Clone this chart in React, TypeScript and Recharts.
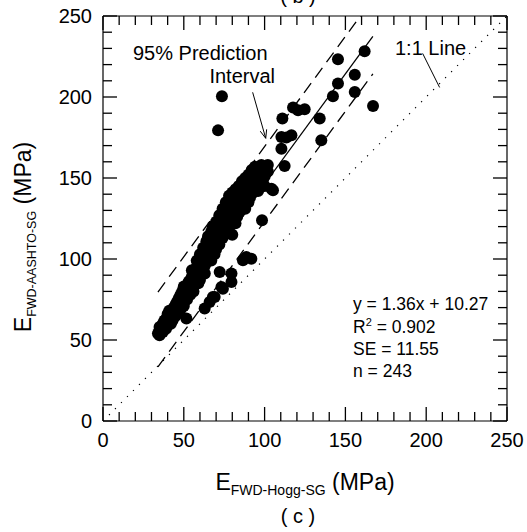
import React from 'react';
import { ComposedChart, Scatter, Line, XAxis, YAxis, ReferenceLine } from 'recharts';

// axis ticks (every 10, labels every 50)
const axisTicks = [0, 10, 20, 30, 40, 50, 60, 70, 80, 90, 100, 110, 120, 130, 140, 150, 160, 170, 180, 190, 200, 210, 220, 230, 240, 250];

// regression y = 1.36x + 10.27, SE = 11.55
const fitSlope = 1.36;
const fitIntercept = 10.27;
const bandOffset = 23.1;
const fitRange = [34, 167];
const oneToOne = [0, 250];

// E_FWD-Hogg-SG vs E_FWD-AASHTO-SG, main cluster [x, y]
const mainCluster = [
  [34, 54], [35, 53], [35, 56], [35, 58], [36, 55], [36, 58], [37, 57], [37, 60], [37, 55],
  [38, 58], [38, 62], [39, 60], [39, 63], [39, 57], [40, 59], [40, 62], [40, 66],
  [41, 61], [41, 64], [41, 68], [42, 63], [42, 66], [42, 60], [43, 65], [43, 69], [43, 62],
  [44, 66], [44, 70], [44, 64], [45, 68], [45, 72], [45, 65], [46, 69], [46, 74], [46, 67],
  [47, 71], [47, 76], [48, 72], [48, 78], [48, 69], [49, 74], [49, 80],
  [50, 75], [50, 79], [50, 83], [50, 71], [51, 77], [51, 82], [52, 78], [52, 84], [52, 75],
  [53, 80], [53, 86], [54, 81], [54, 87], [54, 78], [55, 83], [55, 89], [55, 85], [55, 93],
  [56, 84], [56, 91], [56, 80], [57, 86], [57, 93], [58, 87], [58, 95], [58, 91], [58, 99],
  [59, 89], [59, 97], [59, 85], [60, 90], [60, 94], [60, 99], [60, 87], [60, 103],
  [61, 92], [61, 101], [62, 94], [62, 99], [62, 103], [62, 107], [63, 96], [63, 105], [63, 91],
  [64, 98], [64, 102], [64, 107], [64, 111], [65, 100], [65, 109], [65, 104], [65, 114],
  [66, 102], [66, 111], [66, 106], [67, 104], [67, 113], [67, 99], [67, 117],
  [68, 106], [68, 110], [68, 115], [68, 120], [69, 108], [69, 117], [69, 103],
  [70, 110], [70, 114], [70, 119], [70, 106], [70, 123], [71, 112], [71, 121],
  [72, 114], [72, 118], [72, 123], [72, 109], [72, 127], [73, 116], [73, 125],
  [74, 118], [74, 121], [74, 127], [74, 113], [74, 131], [75, 120], [75, 129], [75, 115],
  [76, 122], [76, 126], [76, 131], [76, 135], [77, 118], [77, 124], [77, 133],
  [78, 126], [78, 130], [78, 135], [78, 139], [79, 121], [79, 128], [80, 124], [80, 130], [80, 136], [80, 115], [80, 141],
  [81, 127], [81, 133], [82, 129], [82, 137], [82, 122], [82, 143], [83, 131], [83, 126],
  [84, 133], [84, 139], [84, 129], [84, 145], [85, 130], [85, 136], [86, 138], [86, 132], [86, 143], [86, 148],
  [87, 135], [87, 140], [88, 137], [88, 145], [88, 131], [88, 150], [89, 139], [89, 143],
  [90, 141], [90, 135], [90, 147], [90, 152], [91, 143], [91, 138], [92, 145], [92, 150], [92, 155],
  [93, 141], [93, 147], [94, 149], [94, 144], [94, 157], [95, 146], [95, 152], [96, 150], [96, 142],
  [97, 148], [97, 154], [98, 152], [98, 146], [98, 158], [99, 155], [99, 149],
  [100, 151], [100, 157], [100, 145], [102, 154], [102, 158],
];

// lower branch below the fit
const lowerBranch = [
  [51.6, 63.2], [62.9, 69.4], [66, 73.5], [69.1, 76.5], [68, 76.5], [73.3, 82.7], [74.2, 81.7],
  [79.5, 85.8], [72.2, 92], [79.5, 91], [86.6, 99.2], [91.8, 100.2], [88.7, 101.2], [98.4, 123.9],
];

// scattered points in the upper range
const upperPoints = [
  [75.3, 127], [78.4, 134.2], [84.6, 129], [87.7, 138.3], [90.8, 140.4], [91.8, 146.5], [95, 150.6],
  [99, 154.7], [104.2, 143.4], [105.2, 142.4], [110.4, 168.1], [112.4, 157.4], [110.4, 175.3],
  [116.6, 176.4], [113.5, 175], [111, 186.7], [117.6, 193.5], [120.7, 191.8], [124.8, 192.4],
  [134.1, 186.7], [135.1, 173.3], [142.3, 200.4], [145.4, 208.3], [155.8, 203.1], [155.8, 213.8],
  [145.4, 223.3], [161.9, 228.2], [167.1, 194.4], [73.6, 200.4], [71.2, 179.4],
];

const points = [...mainCluster, ...lowerBranch, ...upperPoints].map(([x, y]) => ({ x, y }));
const fitLine = fitRange.map((x) => ({ x, y: fitSlope * x + fitIntercept }));
const upperBand = fitRange.map((x) => ({ x, y: fitSlope * x + fitIntercept + bandOffset }));
const lowerBand = fitRange.map((x) => ({ x, y: fitSlope * x + fitIntercept - bandOffset }));
const unityLine = oneToOne.map((v) => ({ x: v, y: v }));

const FONT = '"Liberation Sans", Arial, Helvetica, sans-serif';
const TICK_W = 1.3;
// plot box size (chart 527x532 minus margins and 1px axes)
const PLOT_W = 404;
const PLOT_H = 405;

const tickLen = (v: number) => (v % 50 === 0 ? 14 : 9);

// bottom ticks also mirror onto the top edge
const BottomTick = (props: any) => {
  const { x, y, payload } = props;
  const v = payload.value;
  const len = tickLen(v);
  return (
    <g>
      <path d={`M${x},${y}V${y - len}`} stroke="#000" strokeWidth={TICK_W} fill="none" />
      <path d={`M${x},${y - PLOT_H}V${y - PLOT_H + len}`} stroke="#000" strokeWidth={TICK_W} fill="none" />
      {v % 50 === 0 && (
        <text x={x} y={y + 26} textAnchor="middle" fontSize={20} fontFamily={FONT} fill="#000">
          {v}
        </text>
      )}
    </g>
  );
};

// left ticks also mirror onto the right edge
const LeftTick = (props: any) => {
  const { x, y, payload } = props;
  const v = payload.value;
  const len = tickLen(v);
  return (
    <g>
      <path d={`M${x},${y}H${x + len}`} stroke="#000" strokeWidth={TICK_W} fill="none" />
      <path d={`M${x + PLOT_W},${y}H${x + PLOT_W - len}`} stroke="#000" strokeWidth={TICK_W} fill="none" />
      {v % 50 === 0 && (
        <text x={x - 11} y={y + 7} textAnchor="end" fontSize={20} fontFamily={FONT} fill="#000">
          {v}
        </text>
      )}
    </g>
  );
};

const Dot = (props: any) => <circle cx={props.cx} cy={props.cy} r={6} fill="#000" />;

const Arrow = (props: any) => {
  const { x1, y1, x2, y2 } = props;
  const a = Math.atan2(y2 - y1, x2 - x1);
  const h = 9;
  const s = 0.38;
  return (
    <g stroke="#000" strokeWidth={1} fill="none">
      <line x1={x1} y1={y1} x2={x2} y2={y2} />
      <line x1={x2} y1={y2} x2={x2 - h * Math.cos(a - s)} y2={y2 - h * Math.sin(a - s)} />
      <line x1={x2} y1={y2} x2={x2 - h * Math.cos(a + s)} y2={y2 - h * Math.sin(a + s)} />
    </g>
  );
};

const Leader = (props: any) => (
  <line x1={props.x1} y1={props.y1} x2={props.x2} y2={props.y2} stroke="#000" strokeWidth={1} />
);

const axisCommon = {
  type: 'number' as const,
  domain: [0, 250],
  ticks: axisTicks,
  interval: 0,
  tickSize: 0,
  tickMargin: 0,
  axisLine: { stroke: '#000', strokeWidth: 1.2 },
};

export default function App() {
  return (
    <div style={{ position: 'absolute', left: 0, top: 0, width: 527, height: 532, background: '#fff' }}>
      <ComposedChart width={527} height={532} margin={{ top: 15, right: 19, bottom: 110, left: 102 }}>
        <XAxis dataKey="x" height={1} tick={BottomTick} allowDataOverflow {...axisCommon} />
        <XAxis xAxisId="top" orientation="top" dataKey="x" height={1} tick={false} {...axisCommon} />
        <YAxis dataKey="y" width={1} tick={LeftTick} allowDataOverflow {...axisCommon} />
        <YAxis yAxisId="right" orientation="right" dataKey="y" width={1} tick={false} {...axisCommon} />
        <Line data={unityLine} dataKey="y" type="linear" stroke="#000" strokeWidth={1.2} strokeDasharray="1.2 7.3" dot={false} isAnimationActive={false} />
        <Line data={upperBand} dataKey="y" type="linear" stroke="#000" strokeWidth={1.3} strokeDasharray="12 7" dot={false} isAnimationActive={false} />
        <Line data={lowerBand} dataKey="y" type="linear" stroke="#000" strokeWidth={1.3} strokeDasharray="12 7" dot={false} isAnimationActive={false} />
        <Line data={fitLine} dataKey="y" type="linear" stroke="#000" strokeWidth={1.3} dot={false} isAnimationActive={false} />
        <ReferenceLine segment={[{ x: 92.6, y: 202.9 }, { x: 100.7, y: 174.5 }]} shape={Arrow} />
        <ReferenceLine segment={[{ x: 197.8, y: 226.9 }, { x: 208.3, y: 205.9 }]} shape={Leader} />
        <Scatter data={points} shape={Dot} isAnimationActive={false} />
      </ComposedChart>
      <svg
        width={527}
        height={532}
        style={{ position: 'absolute', left: 0, top: 0, pointerEvents: 'none' }}
        fontFamily={FONT}
        fill="#000"
      >
        <text x={298} y={3} textAnchor="middle" fontSize={20}>( b )</text>
        <text x={133} y={60} fontSize={20}>95% Prediction</text>
        <text x={275} y={83} fontSize={20} textAnchor="end">Interval</text>
        <text x={395} y={55} fontSize={20}>1:1 Line</text>
        <g fontSize={17.5}>
          <text x={353} y={310}>y = 1.36x + 10.27</text>
          <text x={353} y={333}>
            R<tspan fontSize={11} dy={-7}>2</tspan>
            <tspan dy={7}> = 0.902</tspan>
          </text>
          <text x={353} y={355}>SE = 11.55</text>
          <text x={353} y={377}>n = 243</text>
        </g>
        <text x={305} y={490} textAnchor="middle" fontSize={23}>
          E<tspan fontSize={14} dy={5}>FWD-Hogg-SG</tspan>
          <tspan dy={-5}> (MPa)</tspan>
        </text>
        <text x={31} y={237} textAnchor="middle" fontSize={23} transform="rotate(-90 31 237)">
          E<tspan fontSize={12.5} dy={5}>FWD-AASHTO-SG</tspan>
          <tspan dy={-5}> (MPa)</tspan>
        </text>
        <text x={298} y={523} textAnchor="middle" fontSize={20}>( c )</text>
      </svg>
    </div>
  );
}
